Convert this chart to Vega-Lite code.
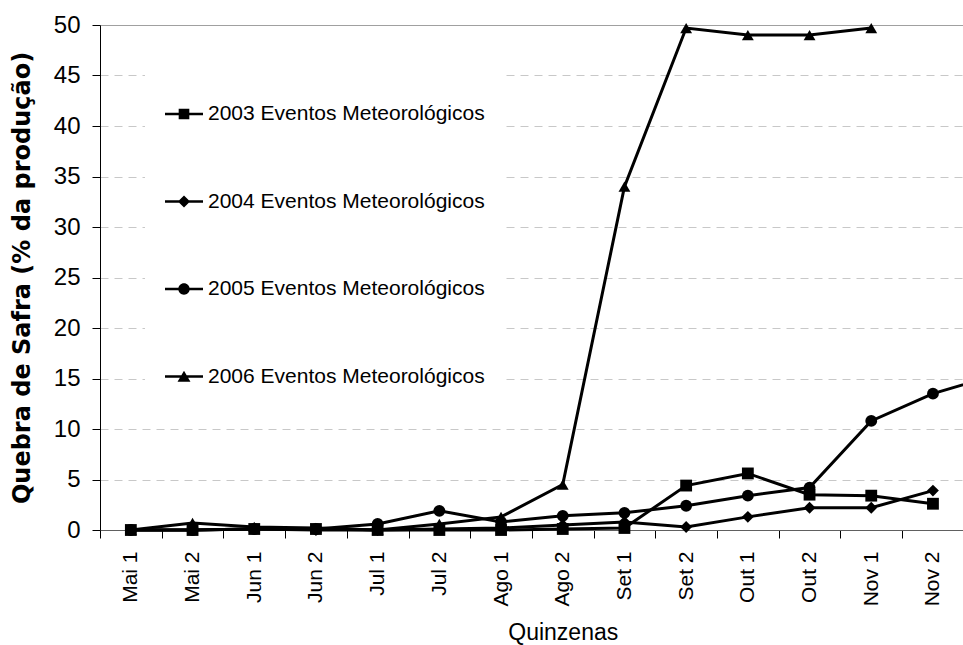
{
  "$schema": "https://vega.github.io/schema/vega-lite/v6.json",
  "autosize": {"type": "none"},
  "padding": {"left": 100, "top": 25, "right": -62.5, "bottom": 115},
  "width": 925.5,
  "height": 505,
  "background": "white",
  "config": {
    "view": {"stroke": null},
    "axis": {"labelColor": "black", "titleColor": "black", "tickColor": "black"}
  },
  "data": {
    "values": [
      {"q": "Mai 1", "serie": "2003 Eventos Meteorológicos", "v": 0},
      {"q": "Mai 2", "serie": "2003 Eventos Meteorológicos", "v": 0},
      {"q": "Jun 1", "serie": "2003 Eventos Meteorológicos", "v": 0.1},
      {"q": "Jun 2", "serie": "2003 Eventos Meteorológicos", "v": 0.1},
      {"q": "Jul 1", "serie": "2003 Eventos Meteorológicos", "v": 0},
      {"q": "Jul 2", "serie": "2003 Eventos Meteorológicos", "v": 0},
      {"q": "Ago 1", "serie": "2003 Eventos Meteorológicos", "v": 0},
      {"q": "Ago 2", "serie": "2003 Eventos Meteorológicos", "v": 0.1},
      {"q": "Set 1", "serie": "2003 Eventos Meteorológicos", "v": 0.2},
      {"q": "Set 2", "serie": "2003 Eventos Meteorológicos", "v": 4.4},
      {"q": "Out 1", "serie": "2003 Eventos Meteorológicos", "v": 5.6},
      {"q": "Out 2", "serie": "2003 Eventos Meteorológicos", "v": 3.5},
      {"q": "Nov 1", "serie": "2003 Eventos Meteorológicos", "v": 3.4},
      {"q": "Nov 2", "serie": "2003 Eventos Meteorológicos", "v": 2.6},
      {"q": "Mai 1", "serie": "2004 Eventos Meteorológicos", "v": 0},
      {"q": "Mai 2", "serie": "2004 Eventos Meteorológicos", "v": 0},
      {"q": "Jun 1", "serie": "2004 Eventos Meteorológicos", "v": 0.1},
      {"q": "Jun 2", "serie": "2004 Eventos Meteorológicos", "v": 0},
      {"q": "Jul 1", "serie": "2004 Eventos Meteorológicos", "v": 0},
      {"q": "Jul 2", "serie": "2004 Eventos Meteorológicos", "v": 0.1},
      {"q": "Ago 1", "serie": "2004 Eventos Meteorológicos", "v": 0.2},
      {"q": "Ago 2", "serie": "2004 Eventos Meteorológicos", "v": 0.5},
      {"q": "Set 1", "serie": "2004 Eventos Meteorológicos", "v": 0.8},
      {"q": "Set 2", "serie": "2004 Eventos Meteorológicos", "v": 0.3},
      {"q": "Out 1", "serie": "2004 Eventos Meteorológicos", "v": 1.3},
      {"q": "Out 2", "serie": "2004 Eventos Meteorológicos", "v": 2.2},
      {"q": "Nov 1", "serie": "2004 Eventos Meteorológicos", "v": 2.2},
      {"q": "Nov 2", "serie": "2004 Eventos Meteorológicos", "v": 3.9},
      {"q": "Mai 1", "serie": "2005 Eventos Meteorológicos", "v": 0},
      {"q": "Mai 2", "serie": "2005 Eventos Meteorológicos", "v": 0},
      {"q": "Jun 1", "serie": "2005 Eventos Meteorológicos", "v": 0.1},
      {"q": "Jun 2", "serie": "2005 Eventos Meteorológicos", "v": 0.1},
      {"q": "Jul 1", "serie": "2005 Eventos Meteorológicos", "v": 0.6},
      {"q": "Jul 2", "serie": "2005 Eventos Meteorológicos", "v": 1.9},
      {"q": "Ago 1", "serie": "2005 Eventos Meteorológicos", "v": 0.8},
      {"q": "Ago 2", "serie": "2005 Eventos Meteorológicos", "v": 1.4},
      {"q": "Set 1", "serie": "2005 Eventos Meteorológicos", "v": 1.7},
      {"q": "Set 2", "serie": "2005 Eventos Meteorológicos", "v": 2.4},
      {"q": "Out 1", "serie": "2005 Eventos Meteorológicos", "v": 3.4},
      {"q": "Out 2", "serie": "2005 Eventos Meteorológicos", "v": 4.2},
      {"q": "Nov 1", "serie": "2005 Eventos Meteorológicos", "v": 10.8},
      {"q": "Nov 2", "serie": "2005 Eventos Meteorológicos", "v": 13.5},
      {"q": "Dez 1", "serie": "2005 Eventos Meteorológicos", "v": 15.3},
      {"q": "Mai 1", "serie": "2006 Eventos Meteorológicos", "v": 0},
      {"q": "Mai 2", "serie": "2006 Eventos Meteorológicos", "v": 0.7},
      {"q": "Jun 1", "serie": "2006 Eventos Meteorológicos", "v": 0.3},
      {"q": "Jun 2", "serie": "2006 Eventos Meteorológicos", "v": 0.2},
      {"q": "Jul 1", "serie": "2006 Eventos Meteorológicos", "v": 0},
      {"q": "Jul 2", "serie": "2006 Eventos Meteorológicos", "v": 0.6},
      {"q": "Ago 1", "serie": "2006 Eventos Meteorológicos", "v": 1.3},
      {"q": "Ago 2", "serie": "2006 Eventos Meteorológicos", "v": 4.5},
      {"q": "Set 1", "serie": "2006 Eventos Meteorológicos", "v": 34},
      {"q": "Set 2", "serie": "2006 Eventos Meteorológicos", "v": 49.7},
      {"q": "Out 1", "serie": "2006 Eventos Meteorológicos", "v": 49},
      {"q": "Out 2", "serie": "2006 Eventos Meteorológicos", "v": 49},
      {"q": "Nov 1", "serie": "2006 Eventos Meteorológicos", "v": 49.7}
    ]
  },
  "encoding": {
    "x": {
      "field": "q",
      "type": "nominal",
      "sort": ["Mai 1", "Mai 2", "Jun 1", "Jun 2", "Jul 1", "Jul 2", "Ago 1", "Ago 2", "Set 1", "Set 2", "Out 1", "Out 2", "Nov 1", "Nov 2", "Dez 1"],
      "scale": {"type": "band", "paddingInner": 0, "paddingOuter": 0},
      "axis": {
        "title": "Quinzenas",
        "titleFont": "Liberation Sans",
        "titleFontSize": 23,
        "titleFontWeight": "normal",
        "titlePadding": 16,
        "labelAngle": -90,
        "labelFont": "Liberation Sans",
        "labelFontSize": 21,
        "labelPadding": 13,
        "labelExpr": "datum.label == 'Dez 1' ? '' : datum.label",
        "tickSize": 8,
        "tickBand": "extent",
        "domainColor": "#606060",
        "grid": false
      }
    },
    "y": {
      "field": "v",
      "type": "quantitative",
      "scale": {"domain": [0, 50], "nice": false},
      "axis": {
        "title": "Quebra de Safra (% da produção)",
        "titleFont": "DejaVu Sans",
        "titleFontSize": 24,
        "titleFontWeight": "bold",
        "titlePadding": 19,
        "values": [0, 5, 10, 15, 20, 25, 30, 35, 40, 45, 50],
        "labelFont": "Liberation Sans",
        "labelFontSize": 24,
        "labelPadding": 12,
        "tickSize": 8,
        "domainColor": "black",
        "grid": true,
        "gridColor": {"condition": {"test": "datum.value === 50", "value": "#a0a0a0"}, "value": "#c8c8c8"},
        "gridDash": {"condition": {"test": "datum.value === 50", "value": []}, "value": [8, 6]}
      }
    }
  },
  "layer": [
    {
      "mark": {"type": "line", "color": "black", "strokeWidth": 3},
      "encoding": {"detail": {"field": "serie", "type": "nominal"}}
    },
    {
      "mark": {"type": "point", "filled": true, "color": "black", "opacity": 1, "size": 140},
      "encoding": {
        "shape": {
          "field": "serie",
          "type": "nominal",
          "scale": {"range": ["square", "diamond", "circle", "triangle-up"]},
          "legend": null
        }
      }
    },
    {
      "mark": {"type": "point", "filled": true, "color": "black", "opacity": 0},
      "encoding": {
        "shape": {
          "field": "serie",
          "type": "nominal",
          "scale": {"range": [
            "M-1,-0.06H1V0.06H-1Z M-0.28,-0.28H0.28V0.28H-0.28Z",
            "M-1,-0.06H1V0.06H-1Z M0,-0.32L0.32,0L0,0.32L-0.32,0Z",
            "M-1,-0.06H1V0.06H-1Z M-0.3,0A0.3,0.3,0,1,1,0.3,0A0.3,0.3,0,1,1,-0.3,0Z",
            "M-1,-0.06H1V0.06H-1Z M0,-0.3L0.34,0.28H-0.34Z"
          ]},
          "legend": {
            "title": null,
            "orient": "none",
            "legendX": 45,
            "legendY": 50,
            "padding": 20,
            "fillColor": "white",
            "rowPadding": 58.5,
            "symbolSize": 1444,
            "symbolFillColor": "black",
            "symbolStrokeWidth": 0,
            "symbolOpacity": 1,
            "labelFont": "Liberation Sans",
            "labelFontSize": 21,
            "labelColor": "black",
            "labelOffset": 5,
            "labelLimit": 400
          }
        }
      }
    }
  ],
  "resolve": {"scale": {"shape": "independent"}, "legend": {"shape": "independent"}}
}
